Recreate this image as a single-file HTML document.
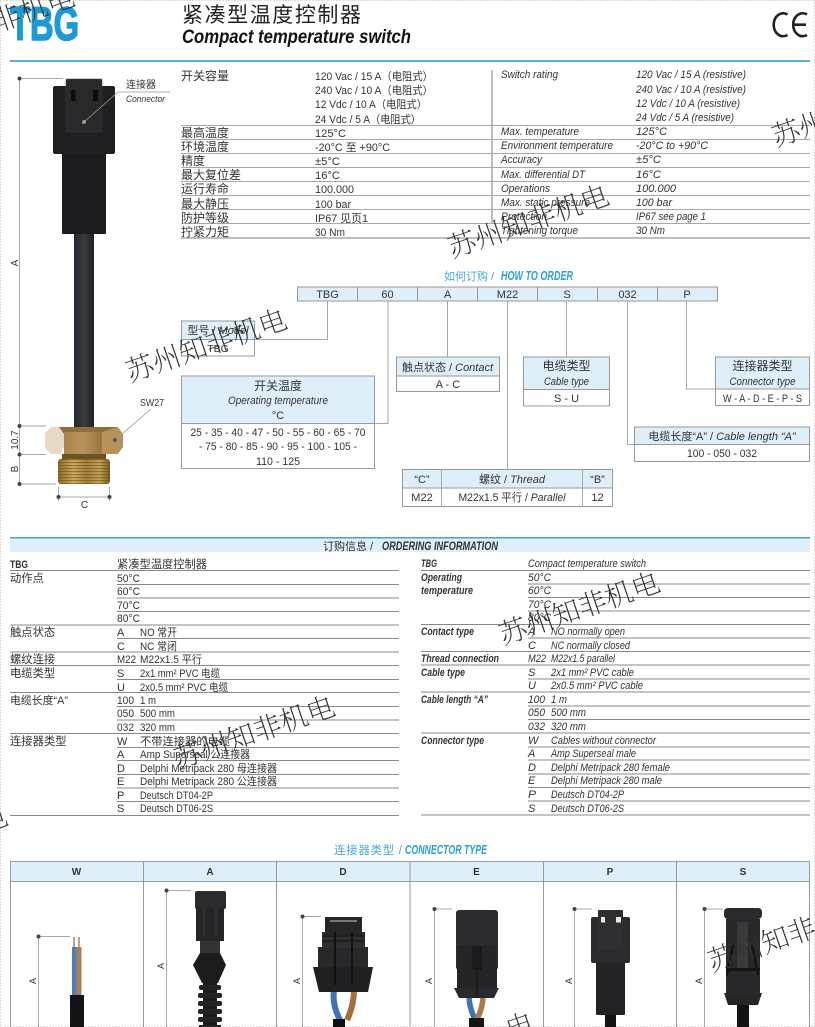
<!DOCTYPE html>
<html lang="zh"><head><meta charset="utf-8"><title>TBG</title>
<style>
html,body{margin:0;padding:0;background:#fff;width:815px;height:1027px;overflow:hidden}
svg{display:block;position:absolute;left:0;top:0;overflow:hidden}
text{font-family:"Liberation Sans","Noto Sans CJK SC",sans-serif;fill:#333;font-size:11px}
.z{font-size:12px}
.i{font-style:italic}
.m{text-anchor:middle}
.b{font-weight:bold}
.l{stroke:#888;stroke-width:1;fill:none}
.g{stroke:#a8a8a8;stroke-width:1;fill:none}
.w{font-family:"Noto Serif CJK SC","Liberation Serif",serif;font-size:28px;font-weight:200;fill:#333}
.bx{fill:#fff;stroke:#999;stroke-width:1}
.hd{fill:#deeffa;stroke:#999;stroke-width:1}
.d{fill:#444}
</style></head><body>
<svg width="815" height="1027" viewBox="0 0 815 1027" xmlns="http://www.w3.org/2000/svg">
<defs>
<clipPath id="page"><rect width="815" height="1027"/></clipPath>
<linearGradient id="br" x1="0" x2="1" y1="0" y2="0"><stop offset="0" stop-color="#a9844f"/><stop offset=".5" stop-color="#b9935c"/><stop offset="1" stop-color="#96733f"/></linearGradient>
<linearGradient id="th" x1="0" x2="1" y1="0" y2="0"><stop offset="0" stop-color="#8d6c2c"/><stop offset=".3" stop-color="#d3ad5f"/><stop offset=".55" stop-color="#a58340"/><stop offset=".8" stop-color="#c9a555"/><stop offset="1" stop-color="#7d5e24"/></linearGradient>
<pattern id="ridge" width="4" height="3" patternUnits="userSpaceOnUse"><rect width="4" height="1.2" fill="#5e4618" opacity=".55"/></pattern>
<linearGradient id="cab" x1="0" x2="1" y1="0" y2="0"><stop offset="0" stop-color="#24272b"/><stop offset=".5" stop-color="#383c42"/><stop offset="1" stop-color="#1f2226"/></linearGradient>
</defs>
<rect x=".5" y=".5" width="814" height="1026" fill="none" stroke="#bbb" stroke-dasharray="1 2"/>

<!-- header -->
<text x="10" y="40" class="b" style="font-size:47px;fill:#1b9ad6;stroke:#1b9ad6;stroke-width:1.6" textLength="69" lengthAdjust="spacingAndGlyphs">TBG</text>
<text x="182" y="22" style="font-size:21px;fill:#222" textLength="179" lengthAdjust="spacing">紧凑型温度控制器</text>
<text x="182" y="43" class="b i" style="font-size:19px;fill:#111" textLength="229" lengthAdjust="spacingAndGlyphs">Compact temperature switch</text>
<path d="M787.500 14.500A9.500 11.500 0 1 0 787.500 35M807 14.500A9.500 11.500 0 1 0 807 35M794 24.700H806" fill="none" stroke="#222" stroke-width="2.600"/>
<rect x="10" y="60" width="800" height="2" fill="#4db4dc"/>

<!-- spec lines -->
<g class="g">
<path d="M181 125.500H810M181 139.500H810M181 153.500H810M181 167.500H810M181 181.500H810M181 195.500H810M181 209.500H810M181 223.500H810"/>
<path d="M181 238H810" stroke-width="1.500"/>
<path d="M492 70V224" stroke-width="1.500"/>
</g>
<!-- spec left -->
<g class="z">
<text class="z" x="181" y="80">开关容量</text>
<text class="z" x="181" y="137">最高温度</text>
<text class="z" x="181" y="151">环境温度</text>
<text class="z" x="181" y="165">精度</text>
<text class="z" x="181" y="179">最大复位差</text>
<text class="z" x="181" y="193">运行寿命</text>
<text class="z" x="181" y="208">最大静压</text>
<text class="z" x="181" y="222">防护等级</text>
<text class="z" x="181" y="236">拧紧力矩</text>
<text x="315" y="80" textLength="118" lengthAdjust="spacingAndGlyphs">120 Vac / 15 A（电阻式）</text>
<text x="315" y="94" textLength="118" lengthAdjust="spacingAndGlyphs">240 Vac / 10 A（电阻式）</text>
<text x="315" y="108" textLength="112" lengthAdjust="spacingAndGlyphs">12 Vdc / 10 A（电阻式）</text>
<text x="315" y="123" textLength="106" lengthAdjust="spacingAndGlyphs">24 Vdc / 5 A（电阻式）</text>
<text x="315" y="137" textLength="31" lengthAdjust="spacingAndGlyphs">125°C</text>
<text x="315" y="151" textLength="75" lengthAdjust="spacingAndGlyphs">-20°C 至 +90°C</text>
<text x="315" y="165" textLength="25" lengthAdjust="spacingAndGlyphs">±5°C</text>
<text x="315" y="179" textLength="25" lengthAdjust="spacingAndGlyphs">16°C</text>
<text x="315" y="193" textLength="39" lengthAdjust="spacingAndGlyphs">100.000</text>
<text x="315" y="208" textLength="36" lengthAdjust="spacingAndGlyphs">100 bar</text>
<text x="315" y="222" textLength="53" lengthAdjust="spacingAndGlyphs">IP67 见页1</text>
<text x="315" y="236" textLength="30" lengthAdjust="spacingAndGlyphs">30 Nm</text>
</g>
<!-- spec right -->
<g class="i">
<text class="i" x="501" y="78" textLength="57" lengthAdjust="spacingAndGlyphs">Switch rating</text>
<text class="i" x="636" y="78" textLength="110" lengthAdjust="spacingAndGlyphs">120 Vac / 15 A (resistive)</text>
<text class="i" x="636" y="93" textLength="110" lengthAdjust="spacingAndGlyphs">240 Vac / 10 A (resistive)</text>
<text class="i" x="636" y="107" textLength="104" lengthAdjust="spacingAndGlyphs">12 Vdc / 10 A (resistive)</text>
<text class="i" x="636" y="121" textLength="98" lengthAdjust="spacingAndGlyphs">24 Vdc / 5 A (resistive)</text>
<text class="i" x="501" y="135" textLength="78" lengthAdjust="spacingAndGlyphs">Max. temperature</text>
<text class="i" x="636" y="135" textLength="31" lengthAdjust="spacingAndGlyphs">125°C</text>
<text class="i" x="501" y="149" textLength="112" lengthAdjust="spacingAndGlyphs">Environment temperature</text>
<text class="i" x="636" y="149" textLength="72" lengthAdjust="spacingAndGlyphs">-20°C to +90°C</text>
<text class="i" x="501" y="163" textLength="41" lengthAdjust="spacingAndGlyphs">Accuracy</text>
<text class="i" x="636" y="163" textLength="25" lengthAdjust="spacingAndGlyphs">±5°C</text>
<text class="i" x="501" y="178" textLength="84" lengthAdjust="spacingAndGlyphs">Max. differential DT</text>
<text class="i" x="636" y="178" textLength="25" lengthAdjust="spacingAndGlyphs">16°C</text>
<text class="i" x="501" y="192" textLength="49" lengthAdjust="spacingAndGlyphs">Operations</text>
<text class="i" x="636" y="192" textLength="40" lengthAdjust="spacingAndGlyphs">100.000</text>
<text class="i" x="501" y="206" textLength="89" lengthAdjust="spacingAndGlyphs">Max. static pressure</text>
<text class="i" x="636" y="206" textLength="36" lengthAdjust="spacingAndGlyphs">100 bar</text>
<text class="i" x="501" y="220" textLength="46" lengthAdjust="spacingAndGlyphs">Protection</text>
<text class="i" x="636" y="220" textLength="70" lengthAdjust="spacingAndGlyphs">IP67 see page 1</text>
<text class="i" x="501" y="234" textLength="77" lengthAdjust="spacingAndGlyphs">Tightening torque</text>
<text class="i" x="636" y="234" textLength="29" lengthAdjust="spacingAndGlyphs">30 Nm</text>
</g>

<!-- main product -->
<path class="g" d="M19 78.500H63M19.500 78V484M19 426H46M19 454.500H46M19 484H56"/>
<circle class="d" cx="19.500" cy="78.500" r="2"/><circle class="d" cx="19.500" cy="426" r="2"/><circle class="d" cx="19.500" cy="454.500" r="2"/><circle class="d" cx="19.500" cy="484" r="2"/>
<text transform="translate(18 263) rotate(-90)" class="m" style="font-size:10px">A</text>
<text transform="translate(18 440) rotate(-90)" class="m" style="font-size:10px">10.7</text>
<text transform="translate(18 469) rotate(-90)" class="m" style="font-size:10px">B</text>
<rect x="74" y="232" width="20" height="196" fill="url(#cab)"/>
<rect x="62" y="150" width="44" height="84" rx="1" fill="#1c1c1e"/>
<rect x="53" y="86" width="62" height="68" rx="2" fill="#202022"/>
<rect x="66" y="79" width="36" height="53" rx="1" fill="#29292b" stroke="#3a3a3c" stroke-width=".5"/>
<rect x="71" y="90" width="4.500" height="11" fill="#0c0c0c"/><rect x="93" y="90" width="5" height="11" fill="#0c0c0c"/>
<path d="M84 122L118 92H170" stroke="#999" stroke-width=".8" fill="none"/>
<circle cx="84" cy="122" r="2" fill="#999"/>
<text class="z" x="126" y="88" style="font-size:10px">连接器</text>
<text class="i" x="126" y="102" style="font-size:9.500px" textLength="39" lengthAdjust="spacingAndGlyphs">Connector</text>

<!-- brass -->
<rect x="62" y="454" width="44" height="6" fill="#6d5226"/>
<rect x="58" y="459" width="52" height="25" rx="3" fill="url(#th)"/>
<rect x="58" y="459" width="52" height="25" rx="3" fill="url(#ridge)"/>
<path d="M51 427H60L64 434V447L60 454H51L45 448V433Z" fill="#e6dac7"/>
<path d="M59 427H118L102 434H64Z" fill="#8f6e3b"/>
<rect x="64" y="432" width="38" height="22" fill="url(#br)"/>
<path d="M102 432L118 427L123 434V447L118 454H102Z" fill="#b5935b"/>
<path d="M115 440L151 409" stroke="#999" stroke-width=".8"/>
<circle cx="115" cy="440" r="2" fill="#555"/>
<text x="140" y="406" style="font-size:10px" textLength="24" lengthAdjust="spacingAndGlyphs">SW27</text>
<path class="g" d="M58.500 487V501M109.500 487V501M58.500 497H109.500"/>
<circle class="d" cx="58.500" cy="497" r="2"/><circle class="d" cx="109.500" cy="497" r="2"/>
<text x="84.500" y="508" class="m" style="font-size:10px">C</text>

<!-- how to order -->
<text x="444" y="280" style="fill:#4aa9d8;font-size:11px">如何订购 /</text>
<text x="501" y="280" class="b i" style="fill:#2b9fd6;font-size:12.500px" textLength="72" lengthAdjust="spacingAndGlyphs">HOW TO ORDER</text>
<g class="hd">
<rect class="hd" x="297.500" y="287" width="60" height="14"/><rect class="hd" x="357.500" y="287" width="60" height="14"/><rect class="hd" x="417.500" y="287" width="60" height="14"/><rect class="hd" x="477.500" y="287" width="60" height="14"/><rect class="hd" x="537.500" y="287" width="60" height="14"/><rect class="hd" x="597.500" y="287" width="60" height="14"/><rect class="hd" x="657.500" y="287" width="60" height="14"/>
</g>
<g style="font-size:10.500px">
<text class="m" x="327.500" y="298">TBG</text><text class="m" x="387.500" y="298">60</text><text class="m" x="447.500" y="298">A</text><text class="m" x="507.500" y="298">M22</text><text class="m" x="567" y="298">S</text><text class="m" x="627.500" y="298">032</text><text class="m" x="687" y="298">P</text>
</g>
<!-- connectors -->
<path class="g" d="M327.500 301V339.500H255M388 301V423.500H374.500M447.500 301V357M507.500 301V469.500M566.500 301V357M627.500 301V444.500H634M686.500 301V389H715.500"/>
<!-- model -->
<rect class="bx" x="181.500" y="321" width="73" height="35"/><rect class="hd" x="181.500" y="321" width="73" height="18.500"/>
<text class="m" x="218" y="334" style="font-size:11px">型号 / <tspan class="i">Model</tspan></text>
<text class="m" x="218" y="352" style="font-size:10.500px">TBG</text>
<!-- op temp -->
<rect class="bx" x="181.500" y="376" width="193" height="92.500"/><rect class="hd" x="181.500" y="376" width="193" height="47.500"/>
<text class="m z" x="278" y="390">开关温度</text>
<text class="m i" x="278" y="404" textLength="100" lengthAdjust="spacingAndGlyphs">Operating temperature</text>
<text class="m" x="278" y="419">°C</text>
<text class="m" x="278" y="436" textLength="175" lengthAdjust="spacingAndGlyphs">25 - 35 - 40 - 47 - 50 - 55 - 60 - 65 - 70</text>
<text class="m" x="278" y="450" textLength="158" lengthAdjust="spacingAndGlyphs">- 75 - 80 - 85 - 90 - 95 - 100 - 105 -</text>
<text class="m" x="278" y="465" textLength="44" lengthAdjust="spacingAndGlyphs">110 - 125</text>
<!-- contact -->
<rect class="bx" x="396.500" y="357" width="103" height="34.500"/><rect class="hd" x="396.500" y="357" width="103" height="19"/>
<text class="m" x="447.500" y="371">触点状态 / <tspan class="i">Contact</tspan></text>
<text class="m" x="448" y="388">A - C</text>
<!-- cable type -->
<rect class="bx" x="523.500" y="357" width="86" height="49"/><rect class="hd" x="523.500" y="357" width="86" height="32.500"/>
<text class="m z" x="566.500" y="370">电缆类型</text>
<text class="m i" x="566.500" y="385" textLength="45" lengthAdjust="spacingAndGlyphs">Cable type</text>
<text class="m" x="566.500" y="402">S - U</text>
<!-- connector type -->
<rect class="bx" x="715.500" y="357" width="94" height="48.500"/><rect class="hd" x="715.500" y="357" width="94" height="32"/>
<text class="m z" x="762.500" y="370">连接器类型</text>
<text class="m i" x="762.500" y="385" textLength="66" lengthAdjust="spacingAndGlyphs">Connector type</text>
<text class="m" x="762.500" y="402" textLength="79" lengthAdjust="spacingAndGlyphs">W - A - D - E - P - S</text>
<!-- cable length -->
<rect class="bx" x="634.500" y="427" width="175" height="34.500"/><rect class="hd" x="634.500" y="427" width="175" height="17.500"/>
<text class="m" x="722" y="440">电缆长度“A” / <tspan class="i">Cable length “A”</tspan></text>
<text class="m" x="722" y="457" textLength="70" lengthAdjust="spacingAndGlyphs">100 - 050 - 032</text>
<!-- thread -->
<rect class="bx" x="402.500" y="469.500" width="210" height="37"/><rect class="hd" x="402.500" y="469.500" width="210" height="18.500"/>
<path class="g" d="M441.500 469.500V506.500M582.500 469.500V506.500" stroke="#888"/>
<text class="m" x="422" y="483">“C”</text>
<text class="m" x="512" y="483">螺纹 / <tspan class="i">Thread</tspan></text>
<text class="m" x="597.500" y="483">“B”</text>
<text class="m" x="422" y="501">M22</text>
<text class="m" x="512" y="501" textLength="107" lengthAdjust="spacingAndGlyphs">M22x1.5 平行 / <tspan class="i">Parallel</tspan></text>
<text class="m" x="597.500" y="501">12</text>

<!-- ordering info -->
<rect x="10" y="538" width="800" height="14" fill="#deeffa"/>
<rect x="10" y="537" width="800" height="1.500" fill="#4ba3bd"/>
<text x="323" y="550">订购信息 /</text>
<text x="382" y="550" class="b i" style="font-size:12px" textLength="116" lengthAdjust="spacingAndGlyphs">ORDERING INFORMATION</text>
<g class="l">
<path d="M10 570.500H399M117 584.500H399M117 598H399M117 611.500H399M10 625H399M117 638.500H399M10 652H399M10 665.500H399M117 679.500H399M10 692.500H399M117 706.500H399M117 720H399M10 733.500H399M117 747.500H399M117 760.500H399M117 774.500H399M117 788H399M117 801.500H399M10 815.500H399"/>
<path d="M421 570.500H810M528 584H810M528 597.500H810M528 611H810M421 624.500H810M528 638H810M421 651.500H810M421 665H810M528 679H810M421 692H810M528 706H810M528 719.500H810M421 733H810M528 747H810M528 760H810M528 774H810M528 787.500H810M528 801H810M421 815H810"/>
</g>
<!-- left table text -->
<text class="b" x="10" y="568" style="font-size:11px" textLength="18" lengthAdjust="spacingAndGlyphs">TBG</text>
<text x="117" y="568" style="font-size:11.250px">紧凑型温度控制器</text>
<text x="10" y="582" style="font-size:11.300px">动作点</text>
<text x="117" y="582" textLength="23" lengthAdjust="spacingAndGlyphs">50°C</text>
<text x="117" y="595" textLength="23" lengthAdjust="spacingAndGlyphs">60°C</text>
<text x="117" y="609" textLength="23" lengthAdjust="spacingAndGlyphs">70°C</text>
<text x="117" y="622" textLength="23" lengthAdjust="spacingAndGlyphs">80°C</text>
<text x="10" y="636" style="font-size:11.300px">触点状态</text>
<text x="117" y="636">A</text><text x="140" y="636" textLength="37" lengthAdjust="spacingAndGlyphs">NO 常开</text>
<text x="117" y="650">C</text><text x="140" y="650" textLength="37" lengthAdjust="spacingAndGlyphs">NC 常闭</text>
<text x="10" y="663" style="font-size:11.300px">螺纹连接</text>
<text x="117" y="663" textLength="19" lengthAdjust="spacingAndGlyphs">M22</text><text x="140" y="663" textLength="62" lengthAdjust="spacingAndGlyphs">M22x1.5 平行</text>
<text x="10" y="677" style="font-size:11.300px">电缆类型</text>
<text x="117" y="677">S</text><text x="140" y="677" textLength="80" lengthAdjust="spacingAndGlyphs">2x1 mm² PVC 电缆</text>
<text x="117" y="691">U</text><text x="140" y="691" textLength="88" lengthAdjust="spacingAndGlyphs">2x0.5 mm² PVC 电缆</text>
<text x="10" y="704" textLength="58" lengthAdjust="spacingAndGlyphs">电缆长度“A”</text>
<text x="117" y="704" textLength="17" lengthAdjust="spacingAndGlyphs">100</text><text x="140" y="704" textLength="16" lengthAdjust="spacingAndGlyphs">1 m</text>
<text x="117" y="717" textLength="17" lengthAdjust="spacingAndGlyphs">050</text><text x="140" y="717" textLength="35" lengthAdjust="spacingAndGlyphs">500 mm</text>
<text x="117" y="731" textLength="17" lengthAdjust="spacingAndGlyphs">032</text><text x="140" y="731" textLength="35" lengthAdjust="spacingAndGlyphs">320 mm</text>
<text x="10" y="745" style="font-size:11.300px">连接器类型</text>
<text x="117" y="745">W</text><text x="140" y="745" textLength="90" lengthAdjust="spacingAndGlyphs">不带连接器的电缆</text>
<text x="117" y="758">A</text><text x="140" y="758" textLength="110" lengthAdjust="spacingAndGlyphs">Amp Superseal 公连接器</text>
<text x="117" y="772">D</text><text x="140" y="772" textLength="137" lengthAdjust="spacingAndGlyphs">Delphi Metripack 280 母连接器</text>
<text x="117" y="785">E</text><text x="140" y="785" textLength="137" lengthAdjust="spacingAndGlyphs">Delphi Metripack 280 公连接器</text>
<text x="117" y="799">P</text><text x="140" y="799" textLength="73" lengthAdjust="spacingAndGlyphs">Deutsch DT04-2P</text>
<text x="117" y="812">S</text><text x="140" y="812" textLength="73" lengthAdjust="spacingAndGlyphs">Deutsch DT06-2S</text>
<!-- right table text -->
<text class="b i" x="421" y="567" style="font-size:11px" textLength="16" lengthAdjust="spacingAndGlyphs">TBG</text>
<text class="i" x="528" y="567" textLength="118" lengthAdjust="spacingAndGlyphs">Compact temperature switch</text>
<text class="b i" x="421" y="581" style="font-size:11px" textLength="41" lengthAdjust="spacingAndGlyphs">Operating</text>
<text class="b i" x="421" y="594" style="font-size:11px" textLength="52" lengthAdjust="spacingAndGlyphs">temperature</text>
<text class="i" x="528" y="581" textLength="23" lengthAdjust="spacingAndGlyphs">50°C</text>
<text class="i" x="528" y="594" textLength="23" lengthAdjust="spacingAndGlyphs">60°C</text>
<text class="i" x="528" y="608" textLength="23" lengthAdjust="spacingAndGlyphs">70°C</text>
<text class="i" x="528" y="621" textLength="23" lengthAdjust="spacingAndGlyphs">80°C</text>
<text class="b i" x="421" y="635" style="font-size:11px" textLength="53" lengthAdjust="spacingAndGlyphs">Contact type</text>
<text class="i" x="528" y="635">A</text><text class="i" x="551" y="635" textLength="74" lengthAdjust="spacingAndGlyphs">NO normally open</text>
<text class="i" x="528" y="649">C</text><text class="i" x="551" y="649" textLength="79" lengthAdjust="spacingAndGlyphs">NC normally closed</text>
<text class="b i" x="421" y="662" style="font-size:11px" textLength="78" lengthAdjust="spacingAndGlyphs">Thread connection</text>
<text class="i" x="528" y="662" textLength="18" lengthAdjust="spacingAndGlyphs">M22</text><text class="i" x="551" y="662" textLength="64" lengthAdjust="spacingAndGlyphs">M22x1.5 parallel</text>
<text class="b i" x="421" y="676" style="font-size:11px" textLength="44" lengthAdjust="spacingAndGlyphs">Cable type</text>
<text class="i" x="528" y="676">S</text><text class="i" x="551" y="676" textLength="83" lengthAdjust="spacingAndGlyphs">2x1 mm² PVC cable</text>
<text class="i" x="528" y="689">U</text><text class="i" x="551" y="689" textLength="92" lengthAdjust="spacingAndGlyphs">2x0.5 mm² PVC cable</text>
<text class="b i" x="421" y="703" style="font-size:11px" textLength="67" lengthAdjust="spacingAndGlyphs">Cable length “A”</text>
<text class="i" x="528" y="703" textLength="17" lengthAdjust="spacingAndGlyphs">100</text><text class="i" x="551" y="703" textLength="16" lengthAdjust="spacingAndGlyphs">1 m</text>
<text class="i" x="528" y="716" textLength="17" lengthAdjust="spacingAndGlyphs">050</text><text class="i" x="551" y="716" textLength="35" lengthAdjust="spacingAndGlyphs">500 mm</text>
<text class="i" x="528" y="730" textLength="17" lengthAdjust="spacingAndGlyphs">032</text><text class="i" x="551" y="730" textLength="35" lengthAdjust="spacingAndGlyphs">320 mm</text>
<text class="b i" x="421" y="744" style="font-size:11px" textLength="63" lengthAdjust="spacingAndGlyphs">Connector type</text>
<text class="i" x="528" y="744">W</text><text class="i" x="551" y="744" textLength="105" lengthAdjust="spacingAndGlyphs">Cables without connector</text>
<text class="i" x="528" y="757">A</text><text class="i" x="551" y="757" textLength="85" lengthAdjust="spacingAndGlyphs">Amp Superseal male</text>
<text class="i" x="528" y="771">D</text><text class="i" x="551" y="771" textLength="119" lengthAdjust="spacingAndGlyphs">Delphi Metripack 280 female</text>
<text class="i" x="528" y="784">E</text><text class="i" x="551" y="784" textLength="111" lengthAdjust="spacingAndGlyphs">Delphi Metripack 280 male</text>
<text class="i" x="528" y="798" textLength="8" lengthAdjust="spacingAndGlyphs">P</text><text class="i" x="551" y="798" textLength="73" lengthAdjust="spacingAndGlyphs">Deutsch DT04-2P</text>
<text class="i" x="528" y="812">S</text><text class="i" x="551" y="812" textLength="73" lengthAdjust="spacingAndGlyphs">Deutsch DT06-2S</text>

<!-- connector type table -->
<text x="334" y="854" style="fill:#4aa9d8;font-size:11.500px" textLength="68" lengthAdjust="spacing">连接器类型 /</text>
<text x="405" y="854" class="b i" style="fill:#2b9fd6;font-size:12.500px" textLength="82" lengthAdjust="spacingAndGlyphs">CONNECTOR TYPE</text>
<rect x="10.500" y="861.500" width="799" height="20" fill="#deeffa" stroke="#8ba3ad"/>
<path d="M10.500 881V1027M143.500 861V1027M276.500 861V1027M410 861V1027M543.500 861V1027M676.500 861V1027M809.500 881V1027" stroke="#999" fill="none"/>
<g class="b" style="font-size:10px">
<text class="m b" x="76.500" y="875" style="font-size:10px">W</text><text class="m b" x="210" y="875" style="font-size:10px">A</text><text class="m b" x="343" y="875" style="font-size:10px">D</text><text class="m b" x="476.500" y="875" style="font-size:10px">E</text><text class="m b" x="610" y="875" style="font-size:10px">P</text><text class="m b" x="743" y="875" style="font-size:10px">S</text>
</g>
<!-- dims -->
<path class="g" d="M38.500 936.500V1027M38.500 936.500H70M166.500 890.500V1027M166.500 890.500H191M302.500 916.500V1027M302.500 916.500H321M434.500 909V1027M434.500 909H452M574.500 909V1027M574.500 909H592M704.500 909V1027M704.500 909H723"/>
<circle class="d" cx="38.500" cy="936.500" r="2"/><circle class="d" cx="166.500" cy="890.500" r="2"/><circle class="d" cx="302.500" cy="916.500" r="2"/><circle class="d" cx="434.500" cy="909" r="2"/><circle class="d" cx="574.500" cy="909" r="2"/><circle class="d" cx="704.500" cy="909" r="2"/>
<g style="font-size:9px">
<text transform="translate(36 981) rotate(-90)" class="m" style="font-size:9px">A</text>
<text transform="translate(164 966) rotate(-90)" class="m" style="font-size:9px">A</text>
<text transform="translate(300 981) rotate(-90)" class="m" style="font-size:9px">A</text>
<text transform="translate(432 981) rotate(-90)" class="m" style="font-size:9px">A</text>
<text transform="translate(572 981) rotate(-90)" class="m" style="font-size:9px">A</text>
<text transform="translate(702 981) rotate(-90)" class="m" style="font-size:9px">A</text>
</g>
<g clip-path="url(#page)">
<!-- W -->
<rect x="73" y="937" width="2" height="11" fill="#b9a68c"/><rect x="78" y="937" width="2" height="11" fill="#b9a68c"/>
<rect x="72" y="947" width="4.500" height="49" fill="#4f7fb5"/><rect x="76.500" y="947" width="5" height="49" fill="#a97f58"/>
<rect x="70" y="995" width="14" height="32" fill="#141416"/>
<!-- A -->
<rect x="195" y="891" width="31" height="18" rx="2" fill="#2b2b2d"/>
<rect x="196" y="908" width="28" height="33" fill="#252527"/>
<path d="M204 908V936M216 908V936" stroke="#3c3c3e"/>
<rect x="200" y="941" width="20" height="12" fill="#333335"/>
<path d="M200 953L193 965L202 983H218L226 965L220 953Z" fill="#1c1c1e"/>
<rect x="203" y="983" width="14" height="44" fill="#1a1a1c"/>
<g fill="#232325"><rect x="199" y="985" width="22" height="5" rx="2"/><rect x="198" y="993" width="24" height="5" rx="2"/><rect x="198" y="1001" width="24" height="5" rx="2"/><rect x="198" y="1009" width="24" height="5" rx="2"/><rect x="198" y="1017" width="24" height="5" rx="2"/><rect x="199" y="1025" width="22" height="2"/></g>
<!-- D -->
<path d="M334 990Q332 1005 340 1020" stroke="#3f74b0" stroke-width="6" fill="none"/>
<path d="M354 990Q354 1005 347 1020" stroke="#a36f3f" stroke-width="6" fill="none"/>
<rect x="333" y="1019" width="12" height="8" fill="#111"/>
<path d="M313 967H373L368 992H319Z" fill="#202022"/>
<rect x="318" y="947" width="50" height="20" fill="#28282a"/>
<rect x="322" y="932" width="43" height="16" fill="#2e2e30"/>
<path d="M322 936H365M322 941H365" stroke="#111"/>
<rect x="325" y="917" width="37" height="18" fill="#262628"/>
<rect x="330" y="920" width="27" height="2" fill="#777"/>
<path d="M335 932V985M352 932V985" stroke="#111" stroke-width="2"/>
<!-- E -->
<path d="M469 998Q470 1010 475 1019" stroke="#3f74b0" stroke-width="5.500" fill="none"/>
<path d="M483 998Q482 1010 477 1019" stroke="#a97a48" stroke-width="5.500" fill="none"/>
<rect x="469" y="1018" width="15" height="9" fill="#141416"/>
<rect x="456" y="910" width="42" height="60" rx="3" fill="#2c2c2e"/>
<rect x="457" y="945" width="40" height="44" fill="#252527"/>
<path d="M454 988H499L494 998H459Z" fill="#2a2a2c"/>
<rect x="472" y="946" width="10" height="24" fill="#1a1a1c"/>
<path d="M477 970V998" stroke="#111"/>
<!-- P -->
<rect x="605" y="1014" width="11" height="13" fill="#141416"/>
<rect x="596" y="960" width="29" height="55" rx="1" fill="#232325"/>
<rect x="591" y="917" width="39" height="46" rx="2" fill="#2b2b2d"/>
<rect x="598" y="910" width="25" height="40" rx="1" fill="#2f2f31"/>
<rect x="601" y="917" width="4" height="5.500" fill="#e8e8e8"/><rect x="616" y="917" width="5" height="5.500" fill="#e8e8e8"/>
<!-- S -->
<rect x="737" y="1003" width="12" height="24" fill="#141416"/>
<path d="M724 993H762L758 1005H728Z" fill="#262628"/>
<rect x="726" y="919" width="34" height="76" fill="#28282a"/>
<rect x="724" y="908" width="38" height="11" rx="4" fill="#2a2a2c"/>
<rect x="737" y="922" width="11" height="48" fill="#3a3a3c"/>
<path d="M733 945L727 975M752 945L758 975" stroke="#111" stroke-width="2"/>
<rect x="726" y="968" width="34" height="3" fill="#151517"/>

<!-- watermarks -->
<text class="w" transform="translate(-3 32) rotate(-19)">非机电</text>
<text class="w" transform="translate(130 382) rotate(-19)">苏州知非机电</text>
<text class="w" transform="translate(452 258) rotate(-19)">苏州知非机电</text>
<text class="w" transform="translate(776 147) rotate(-19)">苏州</text>
<text class="w" transform="translate(503 645) rotate(-19)">苏州知非机电</text>
<text class="w" transform="translate(178 769) rotate(-19)">苏州知非机电</text>
<text class="w" transform="translate(-17 833) rotate(-19)">电</text>
<text class="w" transform="translate(712 972) rotate(-19)">苏州知非</text>
<text class="w" transform="translate(510 1040) rotate(-19)">电</text>
</g>
</svg>
</body></html>
